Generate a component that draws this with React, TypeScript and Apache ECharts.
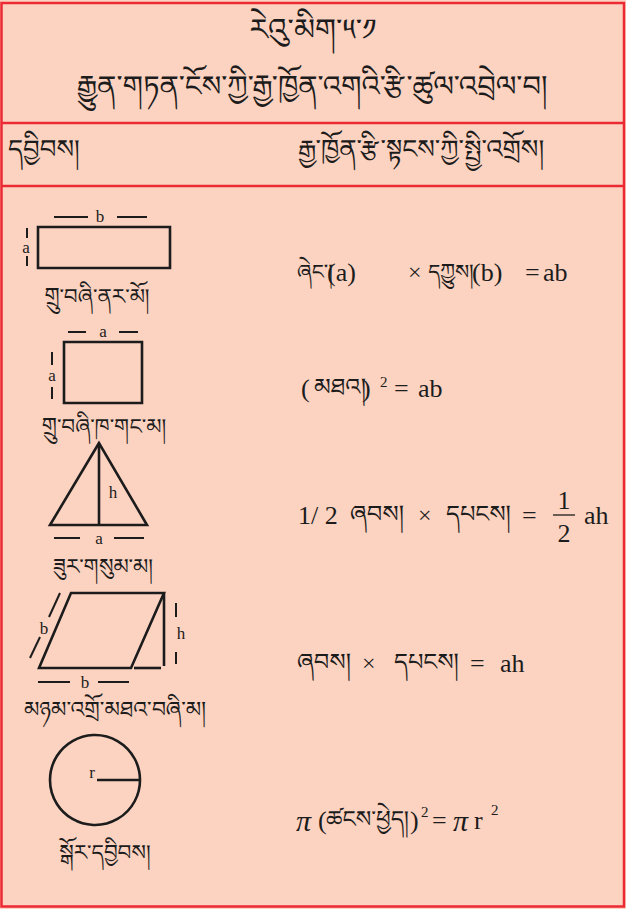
import React, { useEffect, useRef } from "react";
import * as echarts from "echarts";

// ---------- content ----------
const titleLines = ["རེའུ་མིག་༥་༡", "རྒྱུན་གཏན་ངོས་ཀྱི་རྒྱ་ཁྱོན་འགའི་རྩི་ཚུལ་འབྲེལ་བ།"];
const headerLabels = ["དབྱིབས།", "རྒྱ་ཁྱོན་རྩི་སྟངས་ཀྱི་སྤྱི་འགྲོས།"];
const shapeNames = [
  "གྲུ་བཞི་ནར་མོ།",
  "གྲུ་བཞི་ཁ་གང་མ།",
  "ཟུར་གསུམ་མ།",
  "མཉམ་འགྲོ་མཐའ་བཞི་མ།",
  "སྒོར་དབྱིབས།",
];
const rectDims = ["a", "b"];
const squareDims = ["a", "a"];
const triangleDims = ["h", "a"];
const paraDims = ["b", "h", "b"];
const circleDims = ["r"];

const formula1 = ["ཞེང་།", "(a)", "×", "དཀྱུས།", "(b)", "=", "ab"];
const formula2 = ["(", "མཐའ།", ")", "2", "=", "ab"];
const formula3 = ["1/ 2", "ཞབས།", "×", "དཔངས།", "=", "1", "2", "ah"];
const formula4 = ["ཞབས།", "×", "དཔངས།", "=", "ah"];
const formula5 = ["π", "(", "ཚངས་ཕྱེད།", ")", "2", "=", "π", "r", "2"];

// ---------- styles / layout ----------
const BG = "#FCD3C1";
const RED = "#EC2A33";
const INK = "#1c1c1c";
const SERIF = "Liberation Serif, DejaVu Serif, serif";
const TIB = "Noto Serif Tibetan, Noto Sans Tibetan, Jomolhari, DejaVu Sans, sans-serif";
const isTib = (s: string) => /[\u0F00-\u0FFF]/.test(s);

type Piece = { x: number; dy?: number; size?: number; italic?: boolean; align?: string };

const layout1: Piece[] = [
  { x: 297, size: 21 }, { x: 327 }, { x: 408, size: 24 }, { x: 428, size: 21 }, { x: 472 }, { x: 525 }, { x: 543 },
];
const layout2: Piece[] = [{ x: 301 }, { x: 314 }, { x: 362 }, { x: 380, dy: -6, size: 15 }, { x: 394 }, { x: 418 }];
const layout3: Piece[] = [
  { x: 298 }, { x: 350 }, { x: 418, size: 24 }, { x: 446 }, { x: 522 },
  { x: 564, dy: -15, align: "center" }, { x: 564, dy: 18, align: "center" }, { x: 584 },
];
const layout4: Piece[] = [{ x: 297 }, { x: 362, size: 24 }, { x: 394 }, { x: 470 }, { x: 500 }];
const layout5: Piece[] = [
  { x: 296, italic: true, size: 30 }, { x: 318 }, { x: 326, size: 23 }, { x: 410 },
  { x: 421, dy: -8, size: 15 }, { x: 432 }, { x: 453, italic: true, size: 30 }, { x: 474 },
  { x: 491, dy: -10, size: 15 },
];

function text(t: string, x: number, y: number, size: number, opts: any = {}) {
  const tib = isTib(t);
  return {
    type: "text",
    x,
    y,
    silent: true,
    style: {
      text: t,
      fill: INK,
      fontSize: size,
      fontFamily: tib ? TIB : SERIF,
      fontStyle: opts.italic ? "italic" : "normal",
      textAlign: opts.align || "left",
      textVerticalAlign: "middle",
    },
  };
}

function line(x1: number, y1: number, x2: number, y2: number, w = 2, color = INK) {
  return { type: "line", silent: true, shape: { x1, y1, x2, y2 }, style: { stroke: color, lineWidth: w } };
}

function formula(parts: string[], lay: Piece[], y: number) {
  return parts.map((p, i) => {
    const l = lay[i];
    const tib = isTib(p);
    const size = l.size || (tib ? 24 : 26);
    const dy = (l.dy || 0) + (tib ? 5 : 0);
    return text(p, l.x, y + dy, size, { italic: l.italic, align: l.align });
  });
}

export default function App() {
  const ref = useRef<HTMLDivElement>(null);
  useEffect(() => {
    document.body.style.margin = "0";
    const chart = echarts.init(ref.current!, undefined, { renderer: "svg" });
    const els: any[] = [];
    const SW = 2.6;

    // background + frame
    els.push({ type: "rect", silent: true, shape: { x: 0, y: 0, width: 626, height: 909 }, style: { fill: BG } });
    els.push({ type: "rect", silent: true, shape: { x: 1.5, y: 3, width: 622.5, height: 903.5 }, style: { fill: "none", stroke: RED, lineWidth: 2.5 } });
    els.push(line(1.5, 123, 624, 123, 2.5, RED));
    els.push(line(1.5, 186, 624, 186, 2.5, RED));

    // title & header
    els.push(text(titleLines[0], 313, 38, 30, { align: "center" }));
    els.push(text(titleLines[1], 312, 94, 29, { align: "center" }));
    els.push(text(headerLabels[0], 8, 156, 26));
    els.push(text(headerLabels[1], 298, 156, 26));

    // rectangle
    els.push({ type: "rect", silent: true, shape: { x: 38, y: 227, width: 132, height: 41 }, style: { fill: "none", stroke: INK, lineWidth: SW } });
    els.push(line(54, 217, 88, 217), line(117, 217, 147, 217));
    els.push(text(rectDims[1], 100, 216, 17, { align: "center" }));
    els.push(line(27, 228, 27, 238), line(27, 256, 27, 266));
    els.push(text(rectDims[0], 26, 247, 17, { align: "center" }));
    els.push(text(shapeNames[0], 97, 302, 21.5, { align: "center" }));

    // square
    els.push({ type: "rect", silent: true, shape: { x: 64, y: 342, width: 78, height: 61 }, style: { fill: "none", stroke: INK, lineWidth: SW } });
    els.push(line(68, 332, 86, 332), line(119, 332, 138, 332));
    els.push(text(squareDims[0], 103, 331, 17, { align: "center" }));
    els.push(line(52, 352, 52, 365), line(52, 387, 52, 399));
    els.push(text(squareDims[1], 52, 375, 17, { align: "center" }));
    els.push(text(shapeNames[1], 104, 432, 21.5, { align: "center" }));

    // triangle
    els.push({ type: "polygon", silent: true, shape: { points: [[99, 443], [50, 525], [147, 525]] }, style: { fill: "none", stroke: INK, lineWidth: SW } });
    els.push(line(99, 443, 99, 525, SW));
    els.push(text(triangleDims[0], 113, 492, 17, { align: "center" }));
    els.push(line(54, 538, 80, 538), line(114, 538, 144, 538));
    els.push(text(triangleDims[1], 99, 538, 17, { align: "center" }));
    els.push(text(shapeNames[2], 103, 572, 21.5, { align: "center" }));

    // parallelogram
    els.push({ type: "polygon", silent: true, shape: { points: [[71, 593], [164, 593], [131, 668], [39, 668]] }, style: { fill: "none", stroke: INK, lineWidth: SW } });
    els.push(line(164, 593, 164, 666, SW), line(134, 668, 161, 668, SW));
    els.push(line(176, 603, 176, 617), line(176, 652, 176, 664));
    els.push(text(paraDims[1], 181, 633, 17, { align: "center" }));
    els.push(line(60, 593, 49, 617), line(40, 637, 30, 658));
    els.push(text(paraDims[0], 44, 628, 17, { align: "center" }));
    els.push(line(38, 682, 70, 682), line(98, 682, 129, 682));
    els.push(text(paraDims[2], 85, 682, 17, { align: "center" }));
    els.push(text(shapeNames[3], 115, 716, 22, { align: "center" }));

    // circle
    els.push({ type: "circle", silent: true, shape: { cx: 95, cy: 780, r: 45 }, style: { fill: "none", stroke: INK, lineWidth: SW } });
    els.push(line(97, 780, 140, 780, SW));
    els.push(text(circleDims[0], 92, 772, 17, { align: "center" }));
    els.push(text(shapeNames[4], 105, 858, 21.5, { align: "center" }));

    // formulas
    els.push(...formula(formula1, layout1, 272));
    els.push(...formula(formula2, layout2, 388));
    els.push(...formula(formula3, layout3, 515));
    els.push(line(553, 515, 575, 515, 1.3));
    els.push(...formula(formula4, layout4, 663));
    els.push(...formula(formula5, layout5, 820));

    chart.setOption({ animation: false, graphic: { elements: els } });
    return () => chart.dispose();
  }, []);
  return <div ref={ref} style={{ width: 626, height: 909 }} />;
}
